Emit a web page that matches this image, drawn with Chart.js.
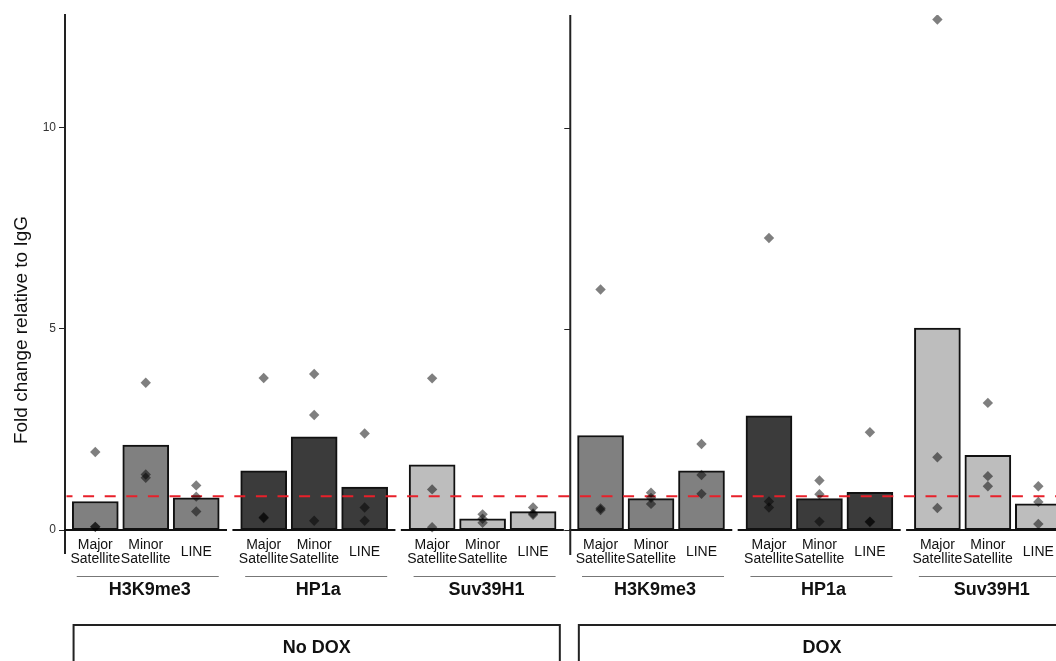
<!DOCTYPE html>
<html><head><meta charset="utf-8">
<script src="https://cdn.jsdelivr.net/npm/chart.js@4.4.1/dist/chart.umd.min.js"></script>
<style>html,body{margin:0;padding:0;background:#fff;overflow:hidden}</style>
</head><body>
<canvas id="c" width="1056" height="661"></canvas>
<script>
// ---- data ----
const panels = ['No DOX', 'DOX'];
const targets = ['H3K9me3', 'HP1a', 'Suv39H1'];
const regions = ['Major Satellite', 'Minor Satellite', 'LINE'];
const noDoxMeans = [0.71, 2.11, 0.80, 1.47, 2.32, 1.07, 1.62, 0.28, 0.46];
const doxMeans   = [2.35, 0.78, 1.47, 2.84, 0.78, 0.94, 5.02, 1.86, 0.65];
const noDoxReplicates = [
  [1.94, 0.08, 0.08], [3.66, 1.38, 1.30], [1.11, 0.83, 0.46],
  [3.78, 0.32, 0.30], [3.88, 2.86, 0.23], [2.40, 0.56, 0.23],
  [3.77, 1.01, 0.07], [0.39, 0.28, 0.18], [0.56, 0.41, 0.38]
];
const doxReplicates = [
  [5.98, 0.54, 0.50], [0.93, 0.80, 0.65], [2.14, 1.37, 0.90],
  [7.26, 0.71, 0.56], [1.23, 0.89, 0.21], [2.43, 0.21, 0.20],
  [12.69, 1.81, 0.55], [3.16, 1.34, 1.09], [1.09, 0.70, 0.15]
];
const iggLevel = 0.84;
const yTickValues = [0, 5, 10];
const yTickLabels = ['0', '5', '10'];
const yAxisTitle = 'Fold change relative to IgG';

// ---- layout helpers ----
const FONT = "'Liberation Sans', Arial, Helvetica, sans-serif";
const groupStride = 3.337;
const targetColors = ['#808080', '#3b3b3b', '#bdbdbd'];
const meansByPanel = [noDoxMeans, doxMeans];
const repsByPanel = [noDoxReplicates, doxReplicates];

const barData = [], barColors = [], pointData = [];
panels.forEach((p, pi) => {
  targets.forEach((t, ti) => {
    regions.forEach((r, ri) => {
      const k = ti * 3 + ri;
      const g = pi * 3 + ti;
      const x = g * groupStride + ri;
      barData.push({x: x, y: meansByPanel[pi][k]});
      barColors.push(targetColors[ti]);
      repsByPanel[pi][k].forEach(v => pointData.push({x: x, y: v}));
    });
  });
});

const decor = {
  id: 'decor',
  beforeDatasetDraw(chart, args) {
    if (args.index !== 0) return;
    const ctx = chart.ctx, xs = chart.scales.x, ys = chart.scales.y, ca = chart.chartArea;
    const y0 = ys.getPixelForValue(0);
    ctx.save();
    // group baselines
    ctx.strokeStyle = '#111'; ctx.lineWidth = 2;
    for (let g = 0; g < 6; g++) {
      const gx = g * groupStride;
      ctx.beginPath();
      ctx.moveTo(xs.getPixelForValue(gx - 0.62), y0);
      ctx.lineTo(xs.getPixelForValue(gx + 2.61), y0);
      ctx.stroke();
    }
    // IgG dashed line
    ctx.beginPath();
    ctx.rect(ca.left + 1.5, 0, chart.width, chart.height);
    ctx.clip();
    const yl = ys.getPixelForValue(iggLevel);
    ctx.strokeStyle = '#e8202a'; ctx.lineWidth = 2;
    ctx.setLineDash([11, 10.6]);
    ctx.beginPath();
    ctx.moveTo(ca.left - 3.5, yl);
    ctx.lineTo(chart.width + 20, yl);
    ctx.stroke();
    ctx.restore();
  },
  afterDraw(chart) {
    const ctx = chart.ctx, xs = chart.scales.x, ys = chart.scales.y, ca = chart.chartArea;
    ctx.save();
    // right panel axis
    const ax = xs.getPixelForValue(3 * groupStride - 0.6);
    ctx.strokeStyle = '#222'; ctx.lineWidth = 2;
    ctx.beginPath(); ctx.moveTo(ax, ca.top); ctx.lineTo(ax, ca.bottom + 2); ctx.stroke();
    ctx.lineWidth = 1;
    yTickValues.forEach(v => {
      const yy = Math.round(ys.getPixelForValue(v)) + 0.5;
      ctx.beginPath(); ctx.moveTo(ax - 6, yy); ctx.lineTo(ax, yy); ctx.stroke();
    });
    // category labels
    ctx.fillStyle = '#111';
    ctx.textAlign = 'center'; ctx.textBaseline = 'middle';
    ctx.font = '14px ' + FONT;
    panels.forEach((p, pi) => targets.forEach((t, ti) => regions.forEach((r, ri) => {
      const x = xs.getPixelForValue((pi * 3 + ti) * groupStride + ri);
      const lines = r.split(' ');
      if (lines.length === 2) {
        ctx.fillText(lines[0], x, 545);
        ctx.fillText(lines[1], x, 559);
      } else {
        ctx.fillText(lines[0], x, 552);
      }
    })));
    // group underline + labels
    panels.forEach((p, pi) => targets.forEach((t, ti) => {
      const g = pi * 3 + ti;
      const cx = xs.getPixelForValue(g * groupStride + 1) + 2;
      ctx.strokeStyle = '#777'; ctx.lineWidth = 1;
      ctx.beginPath(); ctx.moveTo(cx - 71, 576.5); ctx.lineTo(cx + 71, 576.5); ctx.stroke();
      ctx.fillStyle = '#111';
      ctx.font = 'bold 18px ' + FONT;
      ctx.fillText(t, cx + 2, 590);
    }));
    // panel boxes
    panels.forEach((p, pi) => {
      const l = xs.getPixelForValue(pi * 3 * groupStride - 0.45) + 1;
      const r = xs.getPixelForValue((pi * 3 + 2) * groupStride + 2 + 0.53);
      ctx.strokeStyle = '#222'; ctx.lineWidth = 2;
      ctx.strokeRect(l, 625, r - l, 60);
      ctx.fillStyle = '#111';
      ctx.font = 'bold 18px ' + FONT;
      ctx.fillText(p, (l + r) / 2, 648);
    });
    // y title
    ctx.translate(22, 330);
    ctx.rotate(-Math.PI / 2);
    ctx.font = '19px ' + FONT;
    ctx.fillStyle = '#111';
    ctx.fillText(yAxisTitle, 0, 0);
    ctx.restore();
  }
};

new Chart(document.getElementById('c'), {
  type: 'bar',
  data: {
    datasets: [
      {
        type: 'scatter',
        data: pointData,
        order: 0,
        pointStyle: 'rectRot',
        pointRadius: 5.2,
        pointBackgroundColor: 'rgba(0,0,0,0.5)',
        pointBorderWidth: 0,
        borderWidth: 0
      },
      {
        type: 'bar',
        data: barData,
        order: 1,
        backgroundColor: barColors,
        borderColor: '#111',
        borderWidth: 2,
        borderSkipped: false,
        barThickness: 46
      }
    ]
  },
  options: {
    responsive: false,
    animation: false,
    devicePixelRatio: 1,
    layout: {autoPadding: false, padding: {top: 15, bottom: 108, left: 0, right: 0}},
    plugins: {legend: {display: false}, tooltip: {enabled: false}},
    scales: {
      x: {type: 'linear', display: false, offset: false, grid: {offset: false}, bounds: 'data', min: -0.6, max: 19.035},
      y: {
        type: 'linear', min: -0.57, max: 12.8,
        afterBuildTicks: s => { s.ticks = yTickValues.map(v => ({value: v})); },
        afterFit: s => { s.width = 65; },
        ticks: {
          callback: (v) => yTickLabels[yTickValues.indexOf(v)] ?? '',
          font: {size: 12, family: FONT}, color: '#333', padding: 3
        },
        grid: {display: true, drawOnChartArea: false, drawTicks: true, tickLength: 6, color: '#222', lineWidth: 1},
        border: {display: true, color: '#222', width: 2}
      }
    }
  },
  plugins: [decor]
});
</script>
</body></html>
